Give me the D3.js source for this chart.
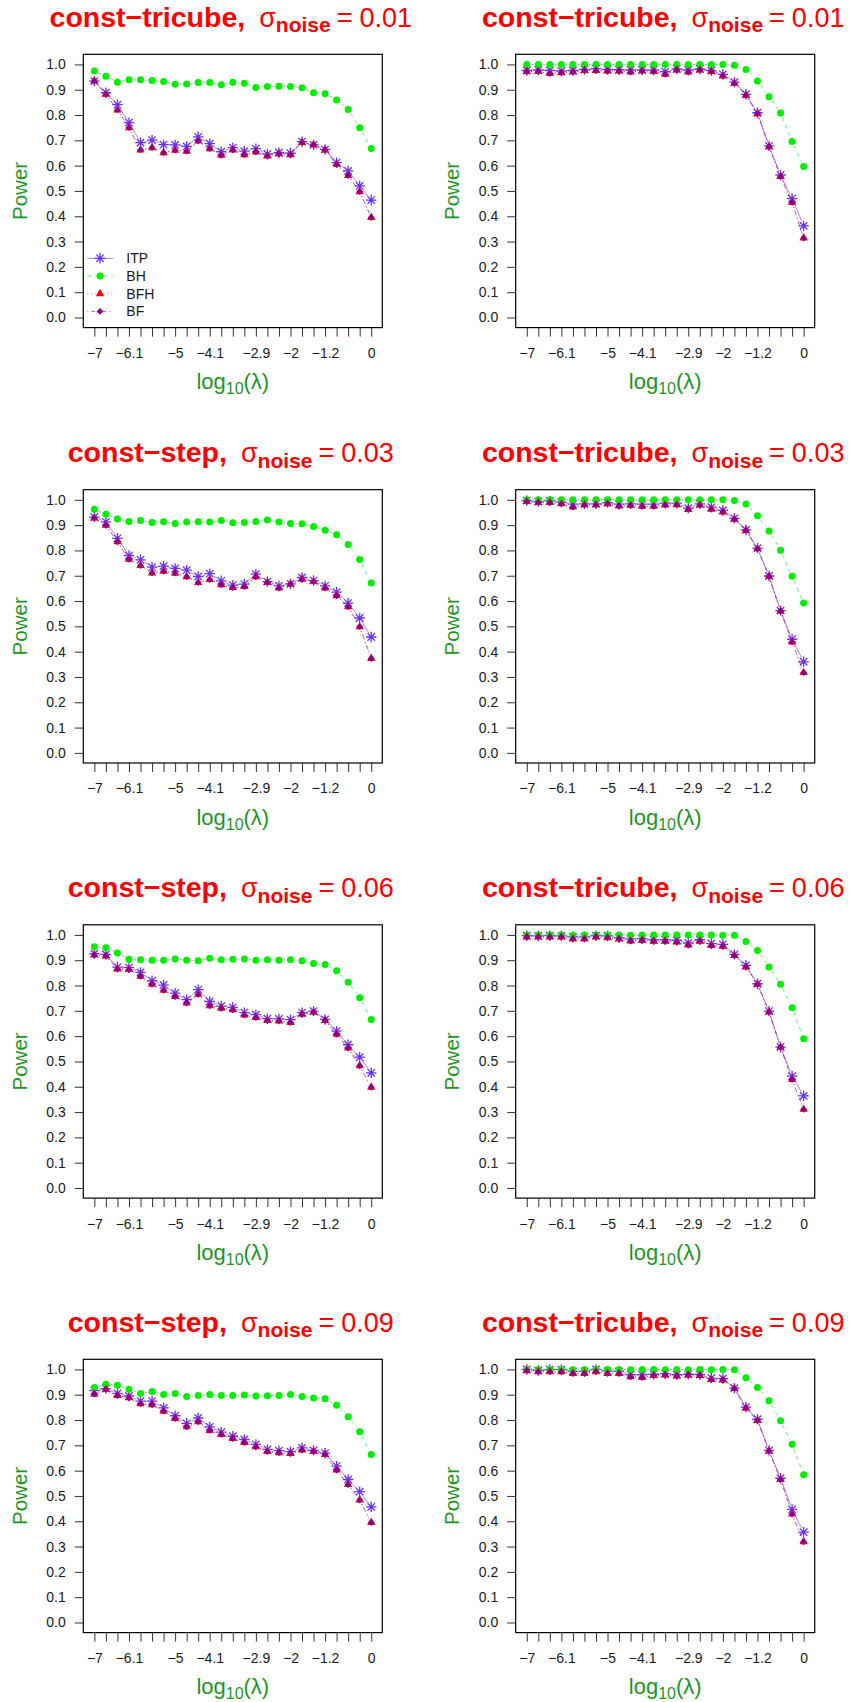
<!DOCTYPE html>
<html>
<head>
<meta charset="utf-8">
<script src="https://cdn.jsdelivr.net/npm/d3@7"></script>
<style>
body { margin: 0; background: #fff; }
svg { display: block; font-family: "Liberation Sans", Arial, Helvetica, sans-serif; }
</style>
</head>
<body>
<svg id="chart" width="853" height="1702"></svg>
<script>
// x axis: 25 lambda values, R only printed the labels that fit
const xLabels = ["\u22127","","","\u22126.1","","","","\u22125","","","\u22124.1","","","","\u22122.9","","","\u22122","","","\u22121.2","","","","0"];
const yTicks = [0, 0.1, 0.2, 0.3, 0.4, 0.5, 0.6, 0.7, 0.8, 0.9, 1.0];

const panelKernel = ["const\u2212tricube", "const\u2212tricube", "const\u2212step", "const\u2212tricube",
                     "const\u2212step", "const\u2212tricube", "const\u2212step", "const\u2212tricube"];
const panelNoise = ["0.01", "0.01", "0.03", "0.03", "0.06", "0.06", "0.09", "0.09"];

const itp1 = [0.934,0.888,0.841,0.770,0.691,0.701,0.683,0.682,0.676,0.714,0.687,0.655,0.671,0.657,0.667,0.646,0.651,0.649,0.695,0.682,0.664,0.612,0.579,0.520,0.464];
const bh1  = [0.974,0.953,0.930,0.939,0.939,0.936,0.933,0.922,0.923,0.929,0.929,0.920,0.930,0.926,0.909,0.913,0.914,0.913,0.908,0.888,0.884,0.859,0.822,0.750,0.668];
const bfh1 = [0.934,0.882,0.820,0.750,0.662,0.671,0.651,0.661,0.657,0.697,0.667,0.641,0.662,0.643,0.654,0.638,0.647,0.643,0.691,0.682,0.662,0.605,0.561,0.497,0.395];
const bf1  = [0.934,0.882,0.820,0.750,0.662,0.671,0.651,0.661,0.657,0.697,0.667,0.641,0.662,0.643,0.654,0.638,0.647,0.643,0.691,0.682,0.662,0.605,0.561,0.497,0.395];

const itp2 = [0.976,0.978,0.976,0.974,0.976,0.980,0.983,0.980,0.979,0.978,0.978,0.978,0.971,0.982,0.978,0.982,0.976,0.961,0.930,0.882,0.809,0.678,0.563,0.470,0.362];
const bh2  = [1,1,1,1,1,1,1,1,1,1,1,1,1,1,1,1,1,1,0.997,0.980,0.934,0.872,0.808,0.695,0.597];
const bfh2 = [0.972,0.972,0.964,0.967,0.970,0.976,0.976,0.974,0.974,0.970,0.974,0.972,0.961,0.978,0.970,0.978,0.972,0.954,0.925,0.878,0.805,0.674,0.557,0.454,0.314];
const bf2  = [0.972,0.972,0.964,0.967,0.970,0.976,0.976,0.974,0.974,0.970,0.974,0.972,0.961,0.978,0.970,0.978,0.972,0.954,0.925,0.878,0.805,0.674,0.557,0.454,0.314];

const itp3 = [0.932,0.913,0.848,0.780,0.763,0.734,0.738,0.729,0.722,0.697,0.708,0.680,0.663,0.667,0.706,0.677,0.660,0.668,0.693,0.681,0.660,0.635,0.592,0.533,0.458];
const bh3  = [0.963,0.943,0.924,0.914,0.918,0.910,0.913,0.906,0.912,0.913,0.912,0.918,0.909,0.910,0.914,0.920,0.912,0.906,0.905,0.895,0.880,0.862,0.823,0.764,0.671];
const bfh3 = [0.928,0.899,0.834,0.765,0.740,0.711,0.718,0.710,0.696,0.673,0.685,0.664,0.653,0.657,0.696,0.673,0.651,0.667,0.686,0.677,0.651,0.621,0.577,0.498,0.373];
const bf3  = [0.928,0.899,0.834,0.765,0.740,0.711,0.718,0.710,0.696,0.673,0.685,0.664,0.653,0.657,0.696,0.673,0.651,0.667,0.686,0.677,0.651,0.621,0.577,0.498,0.373];

const itp4 = [0.997,0.993,0.996,0.991,0.983,0.984,0.984,0.989,0.983,0.984,0.983,0.983,0.987,0.987,0.967,0.984,0.971,0.958,0.927,0.881,0.809,0.699,0.562,0.449,0.360];
const bh4  = [1,1,1,1,1,1,1,1,1,1,1,1,1,1,1,1,1,1,0.997,0.983,0.937,0.877,0.801,0.698,0.592];
const bfh4 = [0.993,0.989,0.989,0.984,0.971,0.980,0.980,0.984,0.975,0.978,0.974,0.974,0.979,0.980,0.962,0.979,0.963,0.952,0.923,0.879,0.806,0.697,0.560,0.438,0.317];
const bf4  = [0.993,0.989,0.989,0.984,0.971,0.980,0.980,0.984,0.975,0.978,0.974,0.974,0.979,0.980,0.962,0.979,0.963,0.952,0.923,0.879,0.806,0.697,0.560,0.438,0.317];

const itp5 = [0.926,0.923,0.873,0.871,0.852,0.819,0.802,0.770,0.744,0.784,0.737,0.719,0.714,0.693,0.685,0.669,0.668,0.665,0.693,0.699,0.666,0.620,0.566,0.517,0.455];
const bh5  = [0.953,0.949,0.929,0.904,0.902,0.900,0.900,0.905,0.900,0.898,0.908,0.902,0.904,0.905,0.900,0.902,0.900,0.902,0.898,0.887,0.883,0.858,0.813,0.752,0.666];
const bfh5 = [0.920,0.917,0.865,0.863,0.836,0.805,0.781,0.756,0.731,0.765,0.720,0.710,0.704,0.683,0.673,0.662,0.660,0.654,0.686,0.694,0.662,0.607,0.553,0.483,0.398];
const bf5  = [0.920,0.917,0.865,0.863,0.836,0.805,0.781,0.756,0.731,0.765,0.720,0.710,0.704,0.683,0.673,0.662,0.660,0.654,0.686,0.694,0.662,0.607,0.553,0.483,0.398];

const itp6 = [0.997,0.996,0.997,0.996,0.992,0.992,0.997,0.996,0.989,0.984,0.985,0.981,0.981,0.979,0.968,0.981,0.966,0.963,0.923,0.880,0.807,0.699,0.557,0.442,0.364];
const bh6  = [1,1,1,1,0.999,1,1,1,1,0.999,1,1,1,1,1,1,1,0.999,0.999,0.974,0.938,0.873,0.805,0.712,0.590];
const bfh6 = [0.992,0.992,0.992,0.992,0.984,0.984,0.992,0.989,0.984,0.976,0.979,0.975,0.975,0.972,0.960,0.975,0.958,0.955,0.918,0.873,0.805,0.695,0.557,0.428,0.311];
const bf6  = [0.992,0.992,0.992,0.992,0.984,0.984,0.992,0.989,0.984,0.976,0.979,0.975,0.975,0.972,0.960,0.975,0.958,0.955,0.918,0.873,0.805,0.695,0.557,0.428,0.311];

const itp7 = [0.916,0.924,0.905,0.895,0.875,0.875,0.848,0.817,0.787,0.808,0.773,0.752,0.736,0.723,0.704,0.684,0.679,0.675,0.690,0.680,0.669,0.618,0.565,0.517,0.457];
const bh7  = [0.929,0.941,0.937,0.922,0.905,0.913,0.901,0.905,0.893,0.897,0.901,0.897,0.897,0.899,0.895,0.896,0.897,0.901,0.893,0.887,0.884,0.858,0.813,0.754,0.664];
const bfh7 = [0.902,0.921,0.897,0.888,0.864,0.860,0.835,0.806,0.773,0.793,0.758,0.743,0.727,0.711,0.694,0.675,0.671,0.668,0.681,0.676,0.664,0.602,0.545,0.484,0.395];
const bf7  = [0.902,0.921,0.897,0.888,0.864,0.860,0.835,0.806,0.773,0.793,0.758,0.743,0.727,0.711,0.694,0.675,0.671,0.668,0.681,0.676,0.664,0.602,0.545,0.484,0.395];

const itp8 = [1.0,0.996,0.999,0.999,0.992,0.992,1.0,0.993,0.992,0.979,0.979,0.981,0.983,0.979,0.981,0.980,0.966,0.964,0.926,0.851,0.803,0.680,0.570,0.447,0.357];
const bh8  = [1,1,1,1,0.999,0.999,1,1,1,0.999,1,1,0.999,1,0.999,1,0.999,1,0.999,0.967,0.929,0.876,0.797,0.704,0.584];
const bfh8 = [0.995,0.991,0.991,0.991,0.984,0.984,0.991,0.984,0.984,0.971,0.968,0.976,0.978,0.974,0.978,0.976,0.960,0.958,0.924,0.847,0.798,0.677,0.565,0.428,0.319];
const bf8  = [0.995,0.991,0.991,0.991,0.984,0.984,0.991,0.984,0.984,0.971,0.968,0.976,0.978,0.974,0.978,0.976,0.960,0.958,0.924,0.847,0.798,0.677,0.565,0.428,0.319];

const panels = [
    [itp1, bh1, bfh1, bf1], [itp2, bh2, bfh2, bf2],
    [itp3, bh3, bfh3, bf3], [itp4, bh4, bfh4, bf4],
    [itp5, bh5, bfh5, bf5], [itp6, bh6, bfh6, bf6],
    [itp7, bh7, bfh7, bf7], [itp8, bh8, bfh8, bf8]
];

const seriesNames = ["ITP", "BH", "BFH", "BF"];
const colors = ["#6633ff", "#00ee00", "#ff0000", "#8b008b"];
const dashes = [null, "4,4", "1,3", "1,3,4,3"];

// marker shapes (R pch 8, 19, 17, 18)
const markers = [
    {path: "M-5.2,0H5.2M0,-5.2V5.2M-3.7,-3.7L3.7,3.7M-3.7,3.7L3.7,-3.7", fill: false},
    {path: "M3.5,0A3.5,3.5 0 1,1 -3.5,0A3.5,3.5 0 1,1 3.5,0Z", fill: true},
    {path: "M0,-4.9L4.2,2.45L-4.2,2.45Z", fill: true},
    {path: "M0,-3.4L3.4,0L0,3.4L-3.4,0Z", fill: true}
];

const svg = d3.select("#chart");
const colLeft = [83.3, 515.7];
const rowTop = [54.3, 489.7, 924.8, 1359.3];
const boxW = 299, boxH = 273.3;
const gap = 4.6;
const labelGreen = "#1e961e";

const drawMarker = (g, k, px, py) => {
    const m = markers[k];
    g.append("path")
        .attr("d", m.path)
        .attr("transform", `translate(${px},${py})`)
        .attr("fill", m.fill ? colors[k] : "none")
        .attr("stroke", m.fill ? "none" : colors[k])
        .attr("stroke-width", m.fill ? null : 1.3);
};

const render = (data, p) => {
    const left = colLeft[p % 2], top = rowTop[Math.floor(p / 2)];
    const g = svg.append("g");

    const x = d3.scalePoint()
        .domain(xLabels.map((d, i) => i))
        .range([left, left + boxW])
        .padding(0.96);
    const y = d3.scaleLinear()
        .domain([-0.04, 1.04])
        .range([top + boxH, top]);

    // y axis
    const yAxis = g.append("g")
        .attr("transform", `translate(${left},0)`)
        .call(d3.axisLeft(y).tickValues(yTicks).tickFormat(d3.format(".1f")).tickSize(8.5).tickPadding(9));
    yAxis.select(".domain").remove();

    // x axis
    const xAxis = g.append("g")
        .attr("transform", `translate(0,${top + boxH})`)
        .call(d3.axisBottom(x).tickFormat(i => xLabels[i]).tickSize(9).tickPadding(11.5));
    xAxis.select(".domain").remove();

    g.selectAll(".tick line").attr("stroke", "#333");
    g.selectAll(".tick text").attr("font-size", 14).attr("fill", "#1a1a1a")
        .attr("font-family", "Liberation Sans, Arial, sans-serif");

    // series: lines with gaps (type = "b"), then points
    data.forEach((vals, k) => {
        const pts = vals.map((v, i) => [x(i), y(v)]);
        const segs = d3.pairs(pts).map(([a, b]) => {
            const dx = b[0] - a[0], dy = b[1] - a[1];
            const len = Math.hypot(dx, dy);
            if (len <= 2 * gap) return null;
            const ux = dx / len, uy = dy / len;
            return `M${a[0] + ux * gap},${a[1] + uy * gap}L${b[0] - ux * gap},${b[1] - uy * gap}`;
        }).filter(d => d);
        g.append("g").selectAll("path")
            .data(segs)
            .join("path")
            .attr("d", d => d)
            .attr("fill", "none")
            .attr("stroke", colors[k])
            .attr("stroke-opacity", 0.6)
            .attr("stroke-width", 1)
            .attr("stroke-dasharray", dashes[k]);
        const pg = g.append("g");
        pts.forEach(pt => drawMarker(pg, k, pt[0], pt[1]));
    });

    // box
    g.append("rect")
        .attr("x", left).attr("y", top)
        .attr("width", boxW).attr("height", boxH)
        .attr("fill", "none").attr("stroke", "#000").attr("stroke-width", 1.2);

    // title
    const title = g.append("text")
        .attr("x", left + boxW / 2 - 2)
        .attr("y", top - 27.6)
        .attr("text-anchor", "middle")
        .attr("fill", "#ff0000");
    title.append("tspan").attr("font-weight", "bold").attr("font-size", 28.5).text(panelKernel[p] + ",");
    title.append("tspan").attr("dx", 14).attr("font-size", 27).text("\u03c3");
    title.append("tspan").attr("dy", 5.7).attr("font-size", 21).attr("font-weight", "bold").text("noise");
    title.append("tspan").attr("dy", -5.7).attr("dx", 6).attr("font-size", 27).text("=");
    title.append("tspan").attr("dx", 7).attr("font-size", 27).text(panelNoise[p]);

    // y label
    g.append("text")
        .attr("transform", `translate(${left - 63.5},${top + boxH / 2}) rotate(-90)`)
        .attr("text-anchor", "middle")
        .attr("dy", "0.35em")
        .attr("font-size", 20.5)
        .attr("fill", labelGreen)
        .text("Power");

    // x label
    const xl = g.append("text")
        .attr("x", left + boxW / 2)
        .attr("y", top + boxH + 61.5)
        .attr("text-anchor", "middle")
        .attr("fill", labelGreen)
        .attr("font-size", 22);
    xl.append("tspan").text("log");
    xl.append("tspan").attr("dy", 5).attr("font-size", 16).text("10");
    xl.append("tspan").attr("dy", -5).text("(\u03bb)");

    // legend only on the first panel
    if (p === 0) {
        const legend = g.selectAll(".legend")
            .data(seriesNames)
            .enter()
            .append("g")
            .attr("class", "legend")
            .attr("transform", (d, i) => `translate(${left},${top + 204 + i * 17.7})`);
        legend.append("line")
            .attr("x1", 4).attr("x2", 30)
            .attr("stroke", (d, i) => colors[i])
            .attr("stroke-opacity", 0.6)
            .attr("stroke-dasharray", (d, i) => dashes[i]);
        legend.each(function(d, i) { drawMarker(d3.select(this), i, 16.7, 0); });
        legend.append("text")
            .attr("x", 43)
            .attr("dy", "0.36em")
            .attr("font-size", 14)
            .attr("fill", "#1a1a1a")
            .text(d => d);
    }
};

panels.forEach((data, p) => render(data, p));
</script>
</body>
</html>
